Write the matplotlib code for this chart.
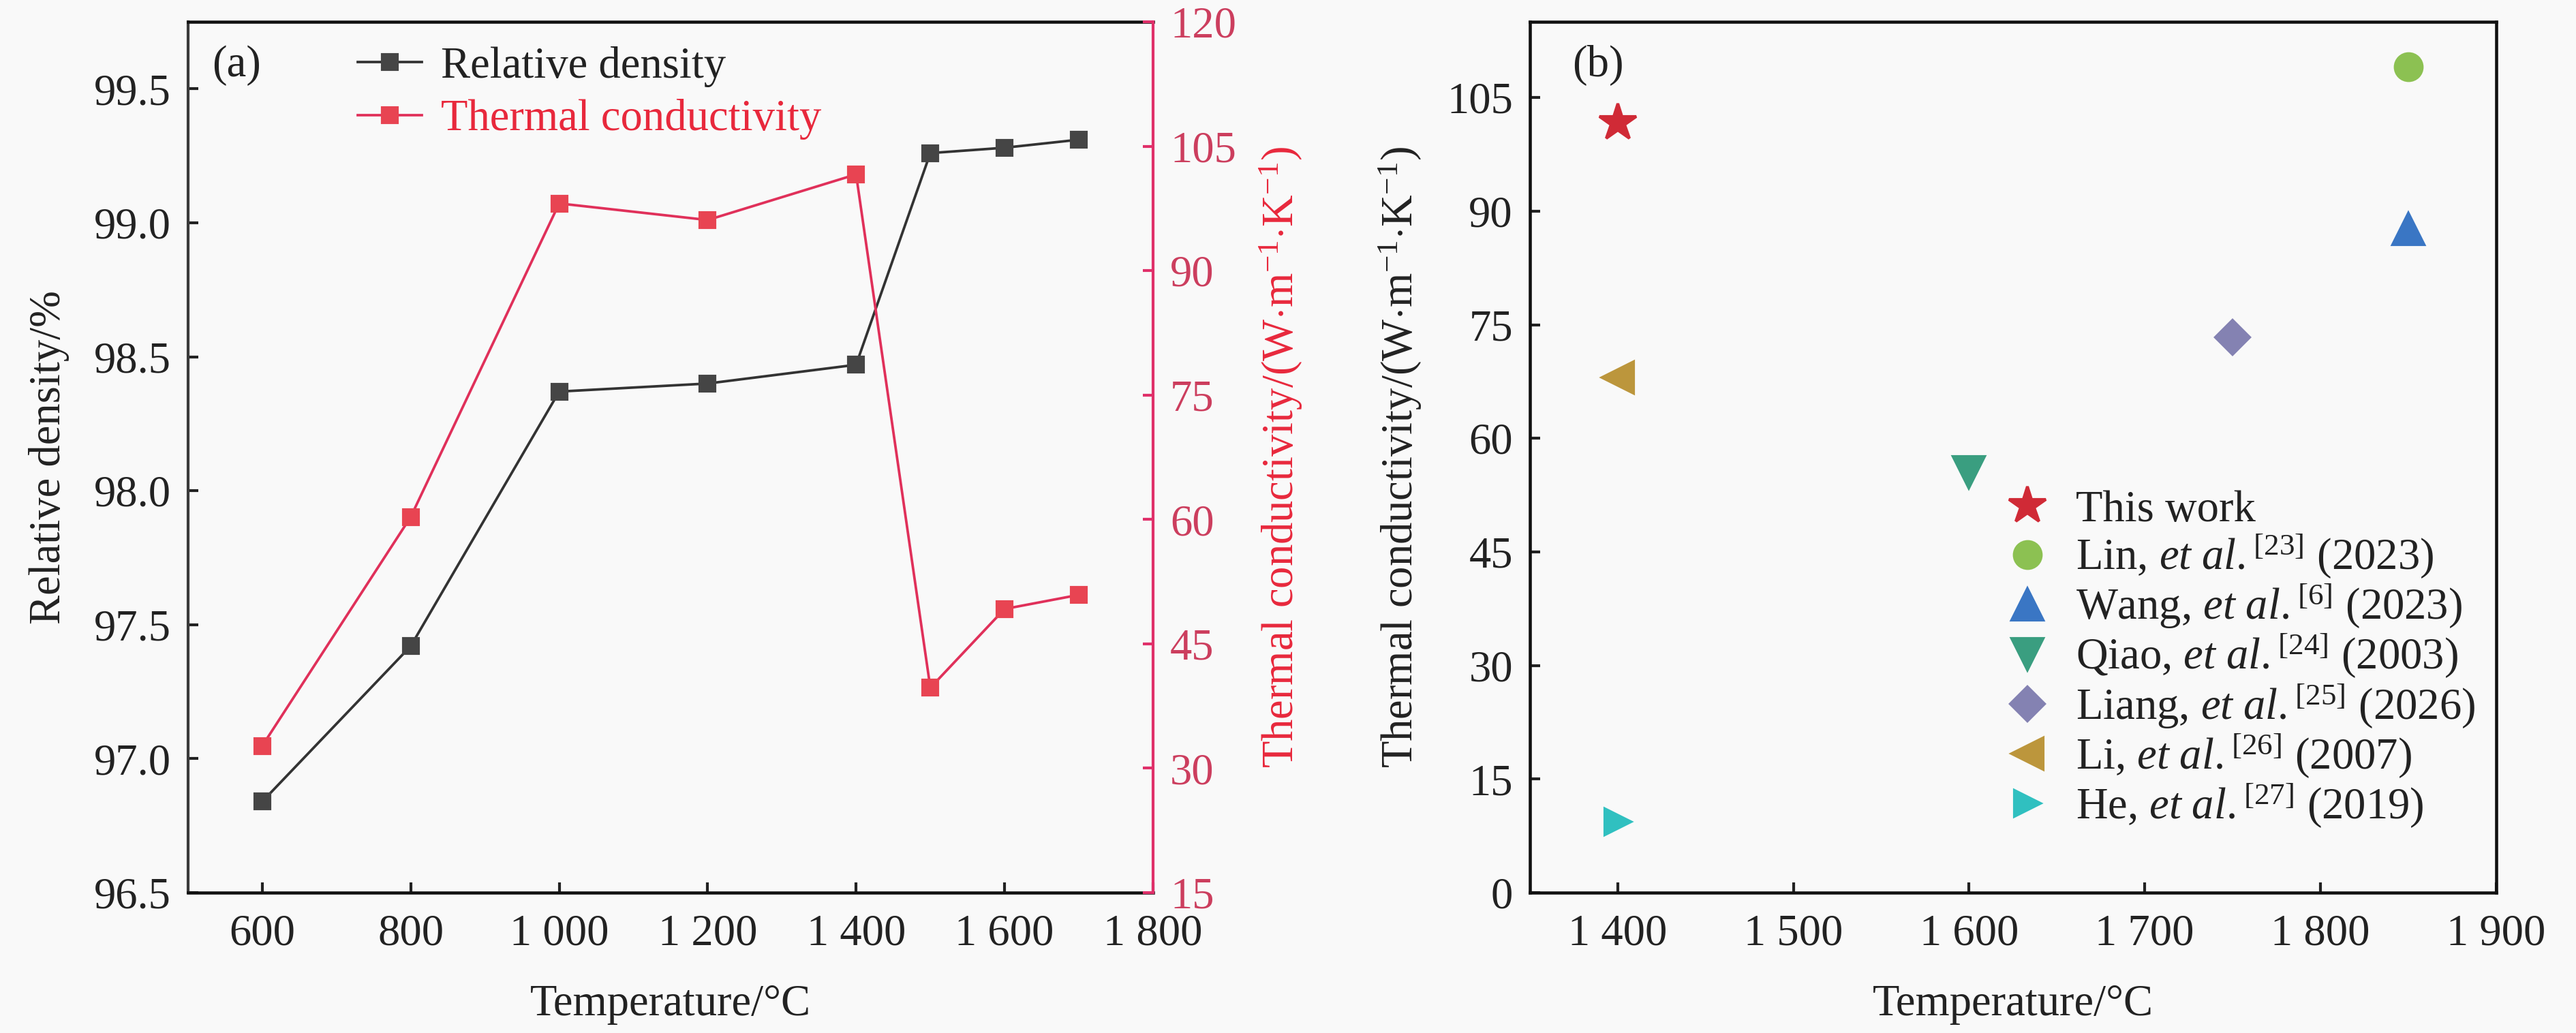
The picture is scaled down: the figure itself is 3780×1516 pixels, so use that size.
import matplotlib
matplotlib.use("Agg")
import matplotlib.pyplot as plt
from matplotlib.ticker import FuncFormatter, MultipleLocator

# ---- data ----
temps_a = [600, 800, 1000, 1200, 1400, 1500, 1600, 1700]
rel_density = [96.84, 97.42, 98.37, 98.40, 98.47, 99.26, 99.28, 99.31]
thermal_cond = [32.7, 60.3, 98.1, 96.1, 101.6, 39.7, 49.2, 50.9]

ref_labels = [
    "This work",
    r"Lin, $\mathit{et\ al.}^{\mathrm{[23]}}$ (2023)",
    r"Wang, $\mathit{et\ al.}^{\mathrm{[6]}}$ (2023)",
    r"Qiao, $\mathit{et\ al.}^{\mathrm{[24]}}$ (2003)",
    r"Liang, $\mathit{et\ al.}^{\mathrm{[25]}}$ (2026)",
    r"Li, $\mathit{et\ al.}^{\mathrm{[26]}}$ (2007)",
    r"He, $\mathit{et\ al.}^{\mathrm{[27]}}$ (2019)",
]
ref_temps = [1400, 1850, 1850, 1600, 1750, 1400, 1400]
ref_cond = [101.7, 109.1, 87.6, 55.5, 73.3, 68.0, 9.4]
ref_markers = ["*", "o", "^", "v", "D", "<", ">"]
ref_sizes = [13.5, 9.5, 11, 11, 8.5, 11, 9]
ref_colors = ["#D02A36", "#8CC152", "#3A76C4", "#3A9E80", "#8482B2", "#BC963C", "#30C0C0"]

# ---- style ----
bg = "#F9F9F9"
serif = "Liberation Serif"
plt.rcParams["font.family"] = [serif, "DejaVu Serif"]
plt.rcParams["font.serif"] = [serif, "DejaVu Serif"]
plt.rcParams["mathtext.fontset"] = "custom"
plt.rcParams["mathtext.rm"] = serif
plt.rcParams["mathtext.it"] = serif + ":italic"
fs = 15.5

red_line = "#E0305A"
red_face = "#E84452"
red_axis = "#E0306A"
red_tick = "#CC3E5E"
red_label = "#E8283C"
dark = "#333333"
txt = "#222222"


def thousands(v, pos):
    return f"{int(round(v)):,}".replace(",", " ")


fig = plt.figure(figsize=(12.6, 1516 / 300), dpi=300, facecolor=bg)
ax = fig.add_axes([0.0730, 0.1359, 0.3746, 0.8430], facecolor=bg)
ax2 = ax.twinx()
axb = fig.add_axes([0.5939, 0.1359, 0.3751, 0.8430], facecolor=bg)

# ---- panel (a) ----
l1, = ax.plot(temps_a, rel_density, "-s", color=dark, lw=0.9, ms=5.5,
              mfc="#454545", mec="#454545", label="Relative density")
l2, = ax2.plot(temps_a, thermal_cond, "-s", color=red_line, lw=0.9, ms=5.5,
               mfc=red_face, mec=red_face, label="Thermal conductivity")

ax.set_xlim(500, 1800)
ax.set_ylim(96.5, 99.75)
ax2.set_ylim(15, 120)
ax.xaxis.set_major_locator(MultipleLocator(200))
ax.xaxis.set_major_formatter(FuncFormatter(thousands))
ax.yaxis.set_major_locator(MultipleLocator(0.5))
ax.yaxis.set_major_formatter(FuncFormatter(lambda v, p: f"{v:.1f}"))
ax2.yaxis.set_major_locator(MultipleLocator(15))

ax.tick_params(direction="in", length=3.5, width=1, labelsize=fs, colors=txt,
               labelfontfamily=serif)
ax.tick_params(axis="x", pad=7.5)
ax.tick_params(axis="y", pad=6)
ax2.tick_params(direction="in", length=3.5, width=1, labelsize=fs, colors=red_axis,
                labelcolor=red_tick, pad=6, labelfontfamily=serif)

for s in ["top", "bottom"]:
    ax.spines[s].set_color("#111111")
    ax.spines[s].set_linewidth(1.1)
ax.spines["left"].set_color("#3a3a3a")
ax.spines["left"].set_linewidth(1.0)
ax.spines["right"].set_visible(False)
ax2.spines["right"].set_color(red_axis)
ax2.spines["right"].set_linewidth(1.0)
for s in ["top", "bottom", "left"]:
    ax2.spines[s].set_visible(False)

ax.set_xlabel("Temperature/°C", fontsize=fs, color=txt, fontfamily=serif)
ax.set_ylabel("Relative density/%", fontsize=fs, color=txt, fontfamily=serif)
ax2.set_ylabel(r"Thermal conductivity/(W$\cdot$m$^{-1}$$\cdot$K$^{-1}$)",
               fontsize=fs, color=red_label, fontfamily=serif)
ax.xaxis.set_label_coords(0.5, -0.105)
ax.yaxis.set_label_coords(-0.123, 0.5)
ax2.yaxis.set_label_coords(1.108, 0.5)

ax.text(0.025, 0.95, "(a)", transform=ax.transAxes, fontsize=fs,
        ha="left", va="center", color=txt, fontfamily=serif)

leg = ax.legend(handles=[l1, l2], loc="upper left", bbox_to_anchor=(0.176, 0.972),
                frameon=False, prop={"family": serif, "size": fs},
                handlelength=1.46, handletextpad=0.42,
                labelspacing=0.27, borderpad=0, borderaxespad=0)
leg.get_texts()[0].set_color(txt)
leg.get_texts()[1].set_color(red_label)

# ---- panel (b) ----
for lab, x, y, m, ms, c in zip(ref_labels, ref_temps, ref_cond, ref_markers,
                               ref_sizes, ref_colors):
    axb.plot([x], [y], linestyle="none", marker=m, ms=ms, color=c, mec=c, label=lab)

axb.set_xlim(1350, 1900)
axb.set_ylim(0, 115)
axb.xaxis.set_major_locator(MultipleLocator(100))
axb.xaxis.set_major_formatter(FuncFormatter(thousands))
axb.yaxis.set_major_locator(MultipleLocator(15))
axb.tick_params(direction="in", length=3.5, width=1, labelsize=fs, colors=txt,
                labelfontfamily=serif)
axb.tick_params(axis="x", pad=7.5)
axb.tick_params(axis="y", pad=6)
for s in axb.spines.values():
    s.set_color("#111111")
    s.set_linewidth(1.1)

axb.set_xlabel("Temperature/°C", fontsize=fs, color=txt, fontfamily=serif)
axb.set_ylabel(r"Thermal conductivity/(W$\cdot$m$^{-1}$$\cdot$K$^{-1}$)",
               fontsize=fs, color=txt, fontfamily=serif)
axb.xaxis.set_label_coords(0.5, -0.105)
axb.yaxis.set_label_coords(-0.110, 0.5)

axb.text(0.044, 0.95, "(b)", transform=axb.transAxes, fontsize=fs,
         ha="left", va="center", color=txt, fontfamily=serif)

legb = axb.legend(loc="upper left", bbox_to_anchor=(0.492, 0.462), frameon=False,
                  prop={"family": serif, "size": fs}, handlelength=1.0,
                  handletextpad=0.6, labelspacing=0.03, borderpad=0, borderaxespad=0)
for t in legb.get_texts():
    t.set_color(txt)

fig.savefig("out.png", dpi=300, facecolor=bg)
